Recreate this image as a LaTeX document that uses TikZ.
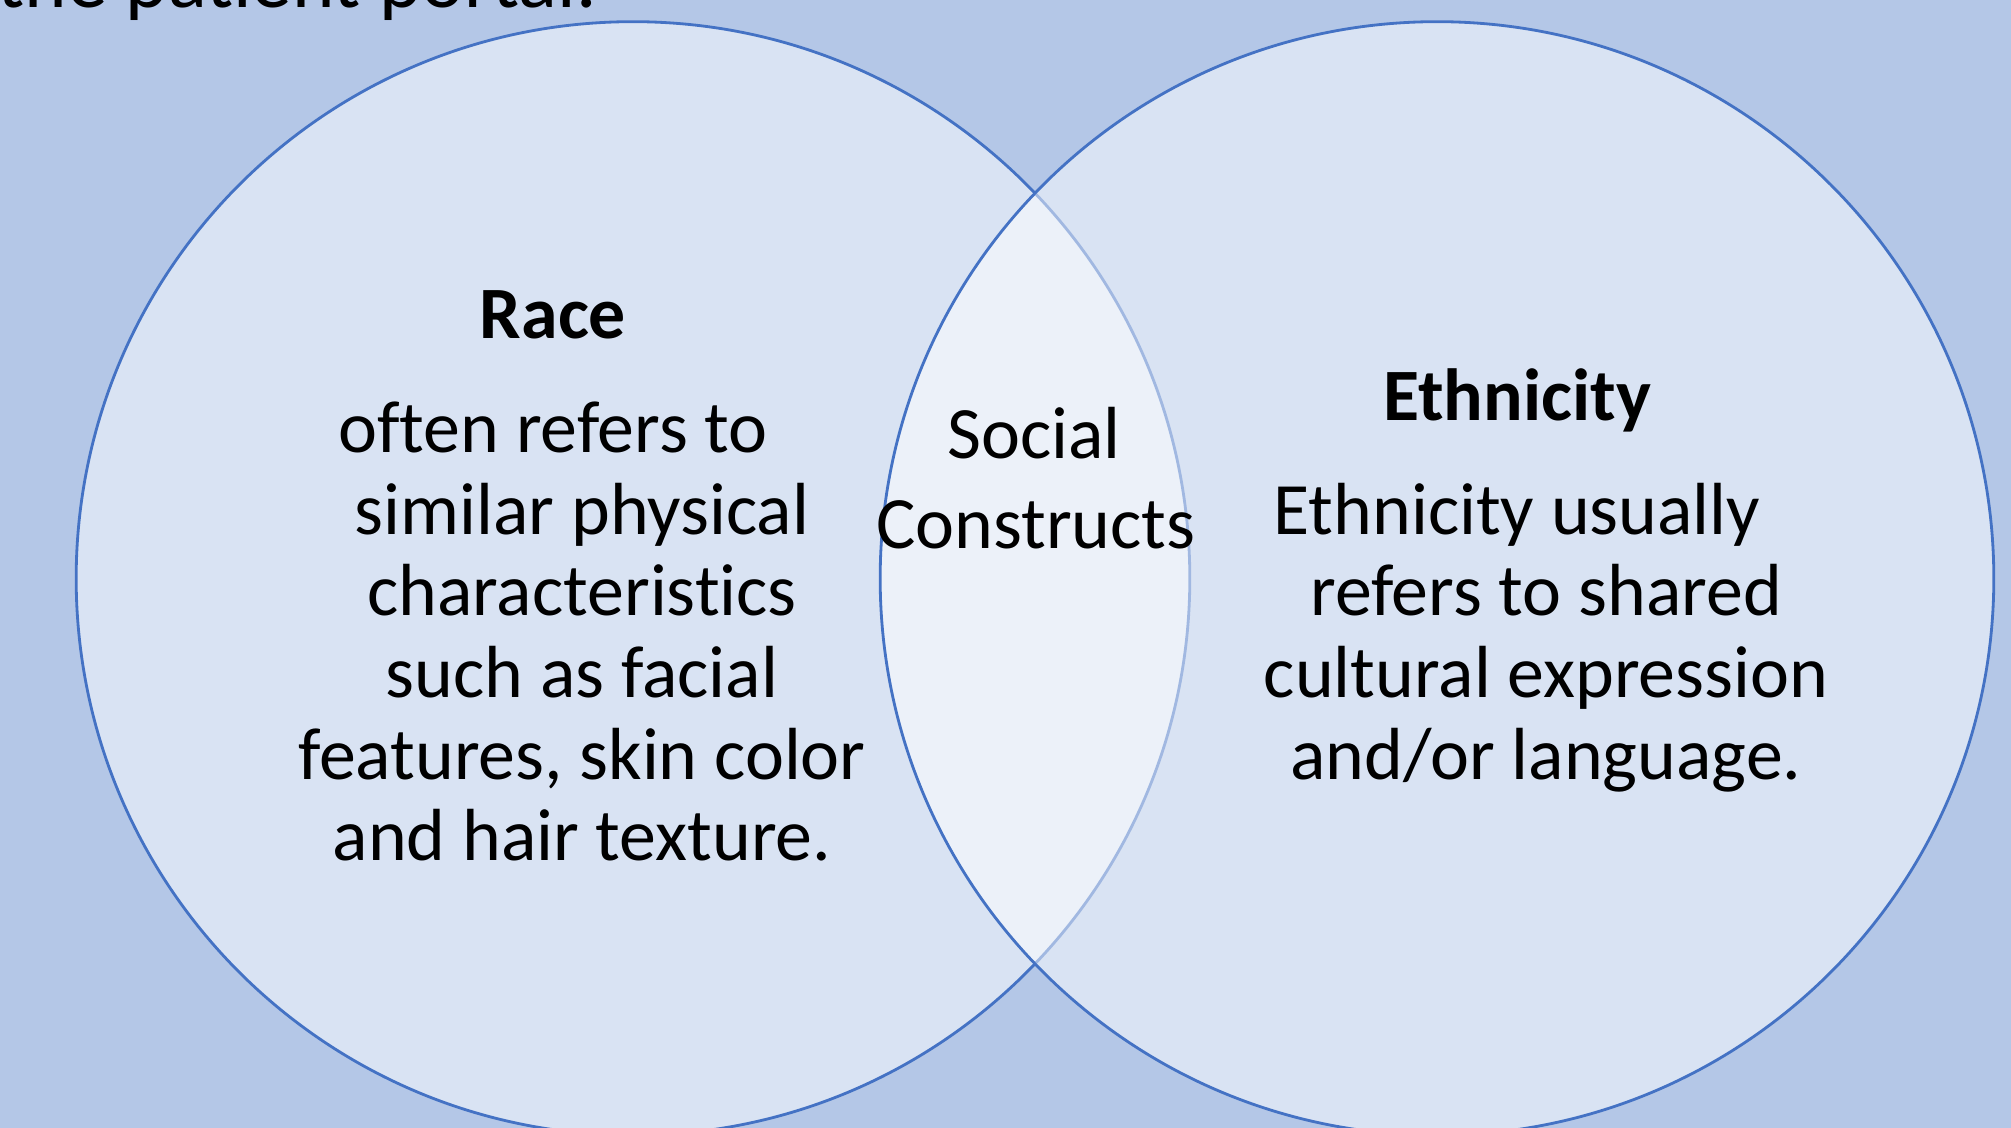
\documentclass[tikz,border=0pt]{standalone}
\usepackage{fontspec}
\setmainfont{Carlito}[Ligatures={NoCommon,NoContextual}]
\definecolor{slide}{HTML}{B4C7E7}
\definecolor{ring}{HTML}{4472C4}
\begin{document}
\begin{tikzpicture}[x=0.01cm,y=-0.01cm,
  venn/.style={circle, minimum size=11.13cm, inner sep=0pt, outer sep=0pt,
               fill=white, fill opacity=0.5, draw=ring, line width=0.8pt},
  body/.style={anchor=base, inner sep=0pt, font=\fontsize{21}{25}\selectfont},
  head/.style={anchor=base, inner sep=0pt, font=\fontsize{21}{25}\selectfont\bfseries}]
% slide background
\fill[slide] (0,0) rectangle (2011,1128);
\useasboundingbox (0,0) rectangle (2011,1128);

% line of text running off the top edge
\node[anchor=base west, inner sep=0pt, font=\fontsize{23}{27}\selectfont]
  (caption) at (-3,8) {the patient portal.};

% the two overlapping sets
\node[venn] (race) at (633,578.5) {};
\node[venn] (ethnicity) at (1437,578.5) {};

% left set
\node[head] (racetitle) at (553,339) {Race};
\node[body] (r1) at (553,453) {often refers to};
\node[body] (r2) at (582,535) {similar physical};
\node[body] (r3) at (582,616) {characteristics};
\node[body] (r4) at (582,698) {such as facial};
\node[body] (r5) at (582,780) {features, skin color};
\node[body] (r6) at (582,861) {and hair texture.};

% overlap
\node[body] (s1) at (1034,459) {Social};
\node[body] (s2) at (1036,549) {Constructs};

% right set
\node[head] (ethtitle) at (1517,421) {Ethnicity};
\node[body] (e1) at (1517,535) {Ethnicity usually};
\node[body] (e2) at (1546,616) {refers to shared};
\node[body] (e3) at (1546,698) {cultural expression};
\node[body] (e4) at (1546,780) {and/or language.};
\end{tikzpicture}
\end{document}
